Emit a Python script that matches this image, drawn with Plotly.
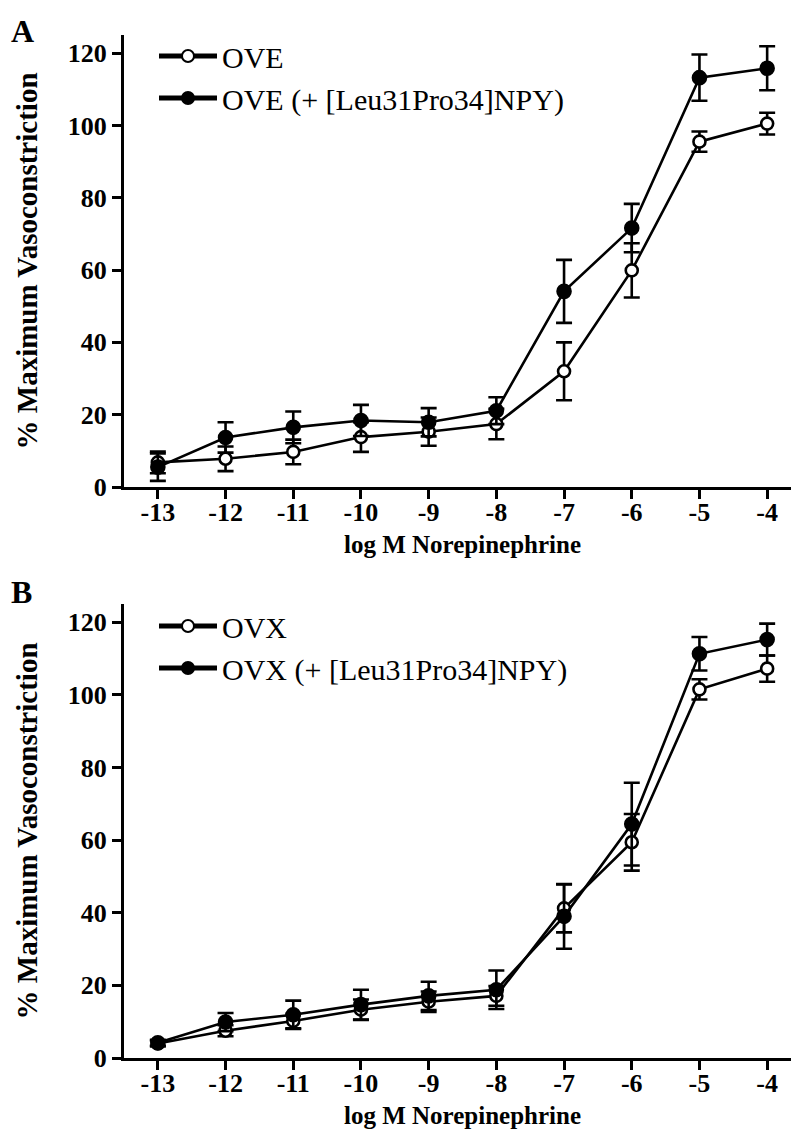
import plotly.graph_objects as go
from plotly.subplots import make_subplots

# ---------------- data ----------------
log_ne = [-13, -12, -11, -10, -9, -8, -7, -6, -5, -4]
tick_vals_x = [-13, -12, -11, -10, -9, -8, -7, -6, -5, -4]
tick_text_x = ["-13", "-12", "-11", "-10", "-9", "-8", "-7", "-6", "-5", "-4"]
tick_vals_y = [0, 20, 40, 60, 80, 100, 120]

ove_mean = [6.8, 7.8, 9.7, 13.8, 15.3, 17.4, 32.0, 59.9, 95.5, 100.5]
ove_sem = [3.0, 3.4, 3.4, 4.1, 3.9, 4.2, 8.0, 7.5, 2.8, 3.0]
ove_npy_mean = [5.5, 13.7, 16.5, 18.4, 17.9, 21.1, 54.1, 71.6, 113.2, 115.8]
ove_npy_sem = [3.8, 4.2, 4.4, 4.3, 3.9, 3.7, 8.7, 6.7, 6.4, 6.1]

ovx_mean = [4.0, 7.5, 10.2, 13.3, 15.5, 17.1, 41.2, 59.4, 101.5, 107.2]
ovx_sem = [0.8, 1.5, 2.0, 2.8, 2.8, 2.7, 6.6, 7.8, 2.8, 3.6]
ovx_npy_mean = [4.2, 9.9, 11.9, 14.7, 17.1, 18.8, 39.0, 64.4, 111.3, 115.2]
ovx_npy_sem = [0.8, 2.5, 3.9, 4.1, 3.9, 5.3, 8.9, 11.4, 4.6, 4.4]

names_a = ["OVE", "OVE (+ [Leu31Pro34]NPY)"]
names_b = ["OVX", "OVX (+ [Leu31Pro34]NPY)"]
x_title = "log M Norepinephrine"
y_title = "% Maximum Vasoconstriction"
panel_letters = ["A", "B"]

# ---------------- figure ----------------
FONT = "Liberation Serif, Times New Roman, serif"
W, H = 799, 1137
ML, MR, MT, MB = 116, 6, 27, 87
plot_h = H - MT - MB
plot_w = W - ML - MR

def pfrac(py):
    return (H - MB - py) / plot_h

def xfrac(px):
    return (px - ML) / plot_w

fig = make_subplots(rows=2, cols=1)

def add_series(y, e, name, filled, row, legend):
    fig.add_trace(go.Scatter(
        x=log_ne, y=y, name=name, mode="lines+markers",
        line=dict(color="black", width=2.6),
        marker=dict(symbol="circle",
                    size=13 if filled else 12,
                    color="black" if filled else "white",
                    line=dict(color="black", width=2.6)),
        error_y=dict(type="data", array=e, visible=True, color="black",
                     thickness=2.6, width=8),
        legend=legend, cliponaxis=False,
    ), row=row, col=1)

add_series(ove_mean, ove_sem, names_a[0], False, 1, "legend")
add_series(ove_npy_mean, ove_npy_sem, names_a[1], True, 1, "legend")
add_series(ovx_mean, ovx_sem, names_b[0], False, 2, "legend2")
add_series(ovx_npy_mean, ovx_npy_sem, names_b[1], True, 2, "legend2")

axis_common = dict(
    showline=True, linecolor="black", linewidth=3, mirror=False,
    ticks="outside", ticklen=9, tickwidth=3, tickcolor="black",
    showgrid=False, zeroline=False,
    tickfont=dict(family=FONT, size=26, color="black", weight="bold"),
)

for r in (1, 2):
    fig.update_xaxes(range=[-13.5, -3.5], tickvals=tick_vals_x, ticktext=tick_text_x,
                     ticklabelstandoff=-9,
                     title=dict(text=x_title, standoff=10,
                                font=dict(family=FONT, size=25, color="black", weight="bold")),
                     row=r, col=1, **axis_common)
    fig.update_yaxes(range=[0, 125], tickvals=tick_vals_y,
                     title=dict(text=y_title, standoff=22,
                                font=dict(family=FONT, size=29, color="black", weight="bold")),
                     row=r, col=1, **axis_common)

fig.update_layout(
    xaxis=dict(domain=[0, 1]), xaxis2=dict(domain=[0, 1]),
    yaxis=dict(domain=[pfrac(479), 1.0]),
    yaxis2=dict(domain=[0.0, pfrac(596)]),
)

leg_common = dict(font=dict(family=FONT, size=30, color="black"),
                  bgcolor="rgba(0,0,0,0)", borderwidth=0,
                  xanchor="left", yanchor="top", tracegroupgap=0,
                  itemsizing="constant", itemwidth=58)
fig.update_layout(
    legend=dict(x=xfrac(146), y=pfrac(22), **leg_common),
    legend2=dict(x=xfrac(146), y=pfrac(592), **leg_common),
    showlegend=True,
    width=W, height=H,
    margin=dict(l=ML, r=MR, t=MT, b=MB, autoexpand=False),
    plot_bgcolor="white", paper_bgcolor="white",
    font=dict(family=FONT, color="black"),
)

anns = []
for letter, px, py in ((panel_letters[0], 1, 23), (panel_letters[1], 1, 584)):
    anns.append(dict(text=letter, xref="paper", yref="paper",
                     x=xfrac(px), y=pfrac(py),
                     xanchor="left", yanchor="middle", showarrow=False,
                     font=dict(family=FONT, size=32, color="black", weight="bold")))
fig.layout.annotations = anns

fig.write_html("out.html")
